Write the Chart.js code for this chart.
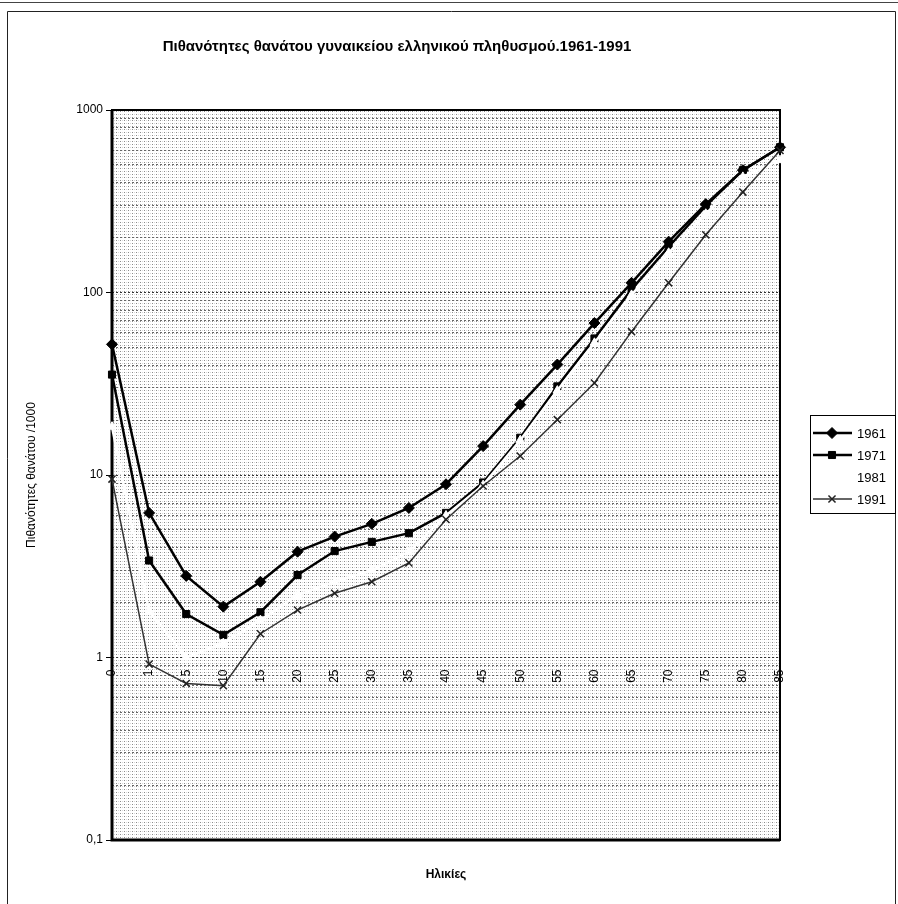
<!DOCTYPE html>
<html>
<head>
<meta charset="utf-8">
<title>Πιθανότητες θανάτου γυναικείου ελληνικού πληθυσμού</title>
<script src="https://cdn.jsdelivr.net/npm/chart.js@4.4.1/dist/chart.umd.min.js"></script>
<style>
  html, body { margin: 0; padding: 0; background: #fff; }
  #wrap { width: 898px; height: 904px; }
</style>
</head>
<body>
<div id="wrap"><canvas id="chart" width="898" height="904"></canvas></div>
<script>
/* data (per 1000) */
var ages = ["0", "1", "5", "10", "15", "20", "25", "30", "35", "40", "45", "50", "55", "60", "65", "70", "75", "80", "85"];
var q1961 = [52, 6.2, 2.8, 1.9, 2.6, 3.8, 4.6, 5.4, 6.6, 8.9, 14.4, 24.3, 40.3, 68, 113, 190, 305, 468, 625];
var q1971 = [35.5, 3.4, 1.73, 1.33, 1.77, 2.83, 3.83, 4.3, 4.8, 6.2, 9.1, 16, 30.6, 56, 104, 178, 298, 468, 625];
var q1981 = [18.4, 1.8, 1.0, 1.2, 1.6, 2.2, 2.6, 3.0, 3.8, 6.0, 8.8, 15.5, 29, 53, 97, 165, 270, 430, 531];
var q1991 = [9.5, 0.92, 0.72, 0.7, 1.35, 1.82, 2.25, 2.6, 3.3, 5.7, 8.7, 12.7, 20.1, 31.9, 61, 113, 207, 355, 600];
var yTickValues = [0.1, 1, 10, 100, 1000];
var yTickLabels = ["0,1", "1", "10", "100", "1000"];

var FONT = "'Liberation Sans', Arial, sans-serif";

function isMajor(v) {
  return yTickValues.some(function (t) { return Math.abs(t - v) < t * 1e-6; });
}

// dotted grey fill of the scanned plot area
function dotPattern(ctx) {
  var p = document.createElement("canvas");
  p.width = 4; p.height = 3;
  var c = p.getContext("2d");
  c.fillStyle = "rgba(0,0,0,0.45)";
  c.fillRect(0, 0, 1, 1);
  c.fillStyle = "rgba(0,0,0,0.15)";
  c.fillRect(2, 0, 1, 1);
  return ctx.createPattern(p, "repeat");
}

var framePlugin = {
  id: "frame",
  beforeDraw: function (chart) {
    var ctx = chart.ctx, a = chart.chartArea;
    ctx.save();
    ctx.fillStyle = "#fff";
    ctx.fillRect(0, 0, chart.width, chart.height);
    // outer chart border
    ctx.strokeStyle = "#444";
    ctx.lineWidth = 1;
    ctx.beginPath();
    ctx.moveTo(0, 2.5); ctx.lineTo(chart.width, 2.5);
    ctx.stroke();
    ctx.strokeStyle = "#222";
    ctx.beginPath();
    ctx.moveTo(7.5, chart.height + 2);
    ctx.lineTo(7.5, 11.5);
    ctx.lineTo(895.5, 11.5);
    ctx.lineTo(895.5, chart.height + 2);
    ctx.stroke();
    ctx.fillStyle = dotPattern(ctx);
    ctx.fillRect(a.left, a.top, a.right - a.left, a.bottom - a.top);
    ctx.restore();
  },
  beforeDatasetsDraw: function (chart) {
    var ctx = chart.ctx, a = chart.chartArea;
    ctx.save();
    ctx.strokeStyle = "#000";
    ctx.lineWidth = 2;
    ctx.strokeRect(a.left, a.top, a.right - a.left, a.bottom - a.top);
    ctx.lineWidth = 3;
    ctx.beginPath();
    ctx.moveTo(a.left, a.top); ctx.lineTo(a.left, a.bottom); ctx.lineTo(a.right, a.bottom);
    ctx.stroke();
    ctx.restore();
  },
  afterDraw: function (chart) {
    // legend box to the right of the plot, like the Excel original
    var ctx = chart.ctx, a = chart.chartArea;
    var bx = a.right + 30, by = 415, bw = 85, bh = 98;
    ctx.save();
    ctx.fillStyle = "#fff";
    ctx.fillRect(bx, by, bw, bh);
    ctx.strokeStyle = "#000";
    ctx.lineWidth = 1;
    ctx.strokeRect(bx + 0.5, by + 0.5, bw, bh);
    ctx.font = "13px " + FONT;
    ctx.textBaseline = "middle";
    chart.data.datasets.forEach(function (ds, i) {
      var y = by + 18 + i * 22;
      ctx.strokeStyle = ds.borderColor;
      ctx.lineWidth = ds.borderWidth;
      ctx.beginPath();
      ctx.moveTo(bx + 3, y); ctx.lineTo(bx + 42, y);
      ctx.stroke();
      ctx.fillStyle = ds.pointBackgroundColor;
      ctx.strokeStyle = ds.pointBorderColor;
      ctx.lineWidth = ds.pointBorderWidth;
      Chart.helpers.drawPoint(ctx, {
        pointStyle: ds.pointStyle, radius: ds.pointRadius,
        borderWidth: ds.pointBorderWidth, rotation: 0
      }, bx + 22, y);
      ctx.fillStyle = "#000";
      ctx.fillText(ds.label, bx + 47, y + 1);
    });
    ctx.restore();
  }
};

function series(label, data, opts) {
  return Object.assign({
    label: label,
    data: data,
    xAxisID: "x",
    yAxisID: "y",
    fill: false,
    tension: 0,
    clip: false,
    pointRadius: 5,
    pointBorderWidth: 1
  }, opts);
}

new Chart(document.getElementById("chart").getContext("2d"), {
  type: "line",
  data: {
    labels: ages,
    datasets: [
      series("1961", q1961, { order: 4, borderColor: "#000", borderWidth: 2.5, pointStyle: "rectRot",
        pointBackgroundColor: "#000", pointBorderColor: "#000", pointRadius: 5.5 }),
      series("1971", q1971, { order: 3, borderColor: "#000", borderWidth: 2.5, pointStyle: "rect",
        pointBackgroundColor: "#000", pointBorderColor: "#000" }),
      series("1981", q1981, { order: 2, borderColor: "#fff", borderWidth: 2.5, pointStyle: "triangle",
        pointBackgroundColor: "#fff", pointBorderColor: "#fff" }),
      series("1991", q1991, { order: 1, borderColor: "#333", borderWidth: 1.5, pointStyle: "crossRot",
        pointBackgroundColor: "#222", pointBorderColor: "#222", pointBorderWidth: 1.5, pointRadius: 5 })
    ]
  },
  options: {
    responsive: false,
    animation: false,
    devicePixelRatio: 1,
    layout: { padding: { left: 14, right: 118, top: 0, bottom: 0 } },
    plugins: {
      legend: { display: false },
      tooltip: { enabled: false },
      title: {
        display: true,
        text: "Πιθανότητες θανάτου γυναικείου ελληνικού πληθυσμού.1961-1991",
        color: "#000",
        font: { family: FONT, size: 15, weight: "bold" },
        padding: { top: 38, bottom: 54 }
      }
    },
    scales: {
      x: {
        type: "category",
        position: { y: 1 },
        offset: false,
        grid: { display: false },
        border: { display: false },
        ticks: {
          color: "#000", autoSkip: false, maxRotation: 90, minRotation: 90,
          padding: 4, font: { family: FONT, size: 12 }
        }
      },
      x2: {
        type: "category",
        position: "bottom",
        offset: false,
        grid: { display: false },
        border: { display: false },
        ticks: { display: false },
        title: {
          display: true, text: "Ηλικίες", color: "#000",
          font: { family: FONT, size: 12, weight: "bold" },
          padding: { top: 0, bottom: 22 }
        },
        afterFit: function (s) { s.height = 64; }
      },
      y: {
        type: "logarithmic",
        position: "left",
        min: 0.1,
        max: 1000,
        afterBuildTicks: function (s) {
          var t = [];
          for (var d = 0; d < yTickValues.length - 1; d++) {
            for (var m = 1; m <= 9; m++) t.push({ value: yTickValues[d] * m });
          }
          t.push({ value: yTickValues[yTickValues.length - 1] });
          s.ticks = t;
        },
        afterFit: function (s) { s.width = 98; },
        grid: {
          color: function (c) { return c.tick && isMajor(c.tick.value) ? "#333" : "#666"; },
          lineWidth: 1,
          tickLength: 6,
          tickColor: function (c) { return c.tick && isMajor(c.tick.value) ? "#000" : "rgba(0,0,0,0)"; }
        },
        border: { display: false, dash: [2, 2] },
        ticks: {
          autoSkip: false,
          color: "#000",
          padding: 3,
          font: { family: FONT, size: 12 },
          callback: function (v) {
            var i = yTickValues.findIndex(function (t) { return Math.abs(t - v) < t * 1e-6; });
            return i >= 0 ? yTickLabels[i] : "";
          }
        },
        title: {
          display: true, text: "Πιθανότητες θανάτου /1000", color: "#000",
          font: { family: FONT, size: 12 },
          padding: { top: 10, bottom: 0 }
        }
      }
    }
  },
  plugins: [framePlugin]
});
</script>
</body>
</html>
